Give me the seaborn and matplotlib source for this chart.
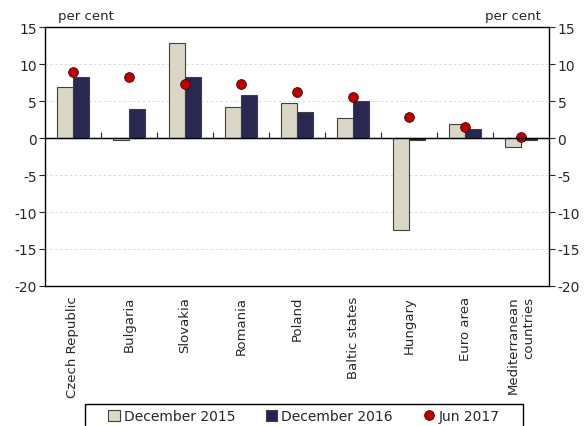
import numpy as np
import pandas as pd
import matplotlib
matplotlib.use("Agg")
import matplotlib.pyplot as plt
from matplotlib.patches import Patch, Rectangle
from matplotlib.lines import Line2D
import seaborn as sns

# Datos
paises = ["Czech Republic", "Bulgaria", "Slovakia", "Romania", "Poland",
          "Baltic states", "Hungary", "Euro area", "Mediterranean\ncountries"]
dic_2015 = [6.9, -0.3, 12.8, 4.2, 4.7, 2.7, -12.4, 1.9, -1.2]
dic_2016 = [8.2, 4.0, 8.2, 5.8, 3.5, 5.0, -0.2, 1.2, -0.3]
jun_2017 = [9.0, 8.3, 7.3, 7.3, 6.3, 5.6, 2.8, 1.5, 0.2]

serie_labels = ["December 2015", "December 2016", "Jun 2017"]
col_2015 = "#DDD9C3"
col_2016 = "#222256"
col_dot = "#C00000"

df = pd.DataFrame({
    "pais": paises * 2,
    "valor": dic_2015 + dic_2016,
    "serie": [serie_labels[0]] * len(paises) + [serie_labels[1]] * len(paises),
})
df_dot = pd.DataFrame({"pais": paises, "valor": jun_2017})

sns.set_style("white")
plt.rcParams["font.family"] = ["DejaVu Sans"]
plt.rcParams["axes.unicode_minus"] = False

fig = plt.figure(figsize=(5.88, 4.27), dpi=100)
ax = fig.add_axes([0.0765, 0.328, 0.8575, 0.606])

sns.barplot(data=df, x="pais", y="valor", hue="serie", order=paises,
            palette=[col_2015, col_2016], width=0.57, edgecolor="#404040",
            linewidth=0.8, ax=ax, legend=False, zorder=3)
sns.stripplot(data=df_dot, x="pais", y="valor", order=paises, jitter=False,
              color=col_dot, size=7, edgecolor="#400000", linewidth=0.6,
              ax=ax, zorder=4)

ax.set_ylim(-20, 15)
ax.set_xlim(-0.5, len(paises) - 0.5)
ax.set_yticks(np.arange(-20, 16, 5))
for v in [-15, -10, -5, 5, 10]:
    ax.axhline(v, color="#DADADA", lw=0.7, ls=(0, (2.5, 2.5)), zorder=1)
ax.axhline(0, color="black", lw=1.0, zorder=5)

ax.set_xlabel("")
ax.set_ylabel("")
ax.tick_params(axis="x", length=0, pad=7, labelsize=9.5)
for lab in ax.get_xticklabels():
    lab.set_rotation(90)
    lab.set_multialignment("right")
ax.tick_params(axis="y", direction="out", length=4, width=0.8, labelsize=10,
               left=True, pad=2)
for s in ax.spines.values():
    s.set_color("black")
    s.set_linewidth(1.0)

# ticks entre categorias sobre la linea del cero
sec = ax.secondary_xaxis(20 / 35)
sec.set_xticks(np.arange(0.5, len(paises) - 1, 1))
sec.set_xticklabels([])
sec.tick_params(axis="x", direction="out", length=4, width=0.8)
sec.spines["bottom"].set_visible(False)

ax2 = ax.twinx()
ax2.set_ylim(ax.get_ylim())
ax2.set_yticks(np.arange(-20, 16, 5))
ax2.tick_params(axis="y", direction="out", length=4, width=0.8, labelsize=10,
                right=True, pad=2)
for s in ax2.spines.values():
    s.set_visible(False)

fig.text(0.099, 0.945, "per cent", fontsize=9.5, ha="left", va="bottom")
fig.text(0.920, 0.945, "per cent", fontsize=9.5, ha="right", va="bottom")

handles = [Patch(facecolor=col_2015, edgecolor="#404040", lw=0.8),
           Patch(facecolor=col_2016, edgecolor="#404040", lw=0.8),
           Line2D([], [], ls="", marker="o", markersize=7, color=col_dot,
                  markeredgecolor="#400000", markeredgewidth=0.6)]
leg = fig.legend(handles, serie_labels, loc="center", ncol=3,
                 bbox_to_anchor=(0.517, 0.023), frameon=False, fontsize=10,
                 handlelength=0.8, handleheight=0.8, handletextpad=0.3,
                 columnspacing=2.2, borderpad=0.25, borderaxespad=0)

# marco de la leyenda (cortado abajo como en el original)
fig.patches.append(Rectangle((85 / 588, -0.05), 438 / 588, 0.05 + 22 / 427,
                             transform=fig.transFigure, fill=False,
                             edgecolor="black", lw=1.0))

fig.savefig("out.png", dpi=100)
